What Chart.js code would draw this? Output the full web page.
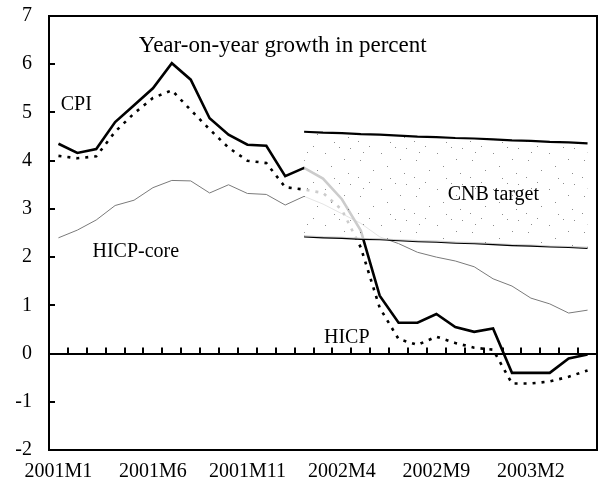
<!DOCTYPE html>
<html>
<head>
<meta charset="utf-8">
<script src="https://cdn.jsdelivr.net/npm/chart.js@4/dist/chart.umd.min.js"></script>
<style>
    html, body { margin: 0; padding: 0; background: #fff; }
    #wrap { width: 598px; height: 492px; }
</style>
</head>
<body>
<div id="wrap"><canvas id="chart" width="598" height="492"></canvas></div>
<script>
// Months 2001M1 .. 2003M5
const months = [
    '2001M1', '2001M2', '2001M3', '2001M4', '2001M5', '2001M6', '2001M7', '2001M8', '2001M9', '2001M10', '2001M11', '2001M12',
    '2002M1', '2002M2', '2002M3', '2002M4', '2002M5', '2002M6', '2002M7', '2002M8', '2002M9', '2002M10', '2002M11', '2002M12',
    '2003M1', '2003M2', '2003M3', '2003M4', '2003M5'
];
const xTickLabels = ['2001M1', '2001M6', '2001M11', '2002M4', '2002M9', '2003M2'];
const yMin = -2;
const yMax = 7;

const cpi = [4.35, 4.16, 4.24, 4.80, 5.15, 5.50, 6.02, 5.68, 4.88, 4.54, 4.33, 4.31,
    3.68, 3.85, 3.63, 3.20, 2.55, 1.20, 0.64, 0.64, 0.82, 0.55, 0.45, 0.52,
    -0.40, -0.40, -0.40, -0.10, -0.02];
const hicp = [4.10, 4.05, 4.09, 4.60, 4.98, 5.30, 5.46, 5.05, 4.65, 4.27, 4.00, 3.95,
    3.45, 3.40, 3.33, 2.98, 2.20, 0.95, 0.30, 0.18, 0.35, 0.22, 0.12, 0.08,
    -0.62, -0.62, -0.58, -0.48, -0.35];
const hicpCore = [2.40, 2.56, 2.77, 3.07, 3.18, 3.44, 3.59, 3.58, 3.33, 3.50, 3.32, 3.30,
    3.08, 3.26, 3.10, 2.90, 2.70, 2.42, 2.28, 2.10, 2.00, 1.92, 1.80, 1.55,
    1.40, 1.15, 1.03, 0.84, 0.90];
// CNB target band, from 2002M2
const targetUpper = [null, null, null, null, null, null, null, null, null, null, null, null, null,
    4.60, 4.58, 4.57, 4.55, 4.54, 4.52, 4.50, 4.49, 4.47, 4.46, 4.44, 4.42, 4.41, 4.39, 4.38, 4.36];
const targetLower = [null, null, null, null, null, null, null, null, null, null, null, null, null,
    2.43, 2.41, 2.40, 2.38, 2.37, 2.35, 2.33, 2.32, 2.30, 2.29, 2.27, 2.25, 2.24, 2.22, 2.21, 2.19];

const serif = '"Liberation Serif", "Times New Roman", serif';

// text placed in data units (category index, value)
const notes = [
    { text: 'Year-on-year growth in percent', at: 11.87, value: 6.38, align: 'center', size: 23 },
    { text: 'CPI', at: 0.12, value: 5.16, align: 'left', size: 20 },
    { text: 'HICP-core', at: 1.8, value: 2.11, align: 'left', size: 20 },
    { text: 'HICP', at: 14.05, value: 0.33, align: 'left', size: 20 },
    { text: 'CNB target', at: 20.6, value: 3.29, align: 'left', size: 20 }
];

const canvas = document.getElementById('chart');
const ctx = canvas.getContext('2d');

// sparse stippled fill for the target band
function makeStipple() {
    const tile = document.createElement('canvas');
    tile.width = 56;
    tile.height = 36;
    const g = tile.getContext('2d');
    g.fillStyle = 'rgba(255, 255, 255, 0.8)';
    g.fillRect(0, 0, 56, 36);
    g.fillStyle = 'rgba(0, 0, 0, 0.45)';
    const dots = [[3, 3], [14, 4], [33, 2], [45, 9], [8, 15], [24, 16], [51, 22], [37, 26], [12, 29], [27, 8], [54, 34], [22, 33]];
    for (const [x, y] of dots) g.fillRect(x, y, 1, 1);
    return ctx.createPattern(tile, 'repeat');
}

// frame, inward ticks and text
const decorations = {
    id: 'decorations',
    afterDraw(chart) {
        const c = chart.ctx;
        const area = chart.chartArea;
        const x = chart.scales.x;
        const y = chart.scales.y;
        c.save();
        c.setLineDash([]);
        c.strokeStyle = '#000';
        c.lineWidth = 2;
        c.beginPath();
        c.rect(area.left, area.top, area.right - area.left, area.bottom - area.top);
        c.stroke();

        // y ticks pointing into the plot
        c.beginPath();
        for (let v = yMin + 1; v < yMax; v++) {
            const py = Math.round(y.getPixelForValue(v));
            c.moveTo(area.left, py);
            c.lineTo(area.left + 6, py);
        }
        // month ticks on the zero line
        const zero = y.getPixelForValue(0);
        const step = x.getPixelForValue(1) - x.getPixelForValue(0);
        for (let i = 0; i < months.length - 1; i++) {
            const px = Math.round(x.getPixelForValue(i) + step / 2);
            c.moveTo(px, zero);
            c.lineTo(px, zero - 6);
        }
        c.stroke();

        c.fillStyle = '#000';
        c.textBaseline = 'middle';
        for (const n of notes) {
            c.font = n.size + 'px ' + serif;
            c.textAlign = n.align;
            const px = x.getPixelForValue(0) + n.at * step;
            c.fillText(n.text, px, y.getPixelForValue(n.value));
        }
        c.restore();
    }
};

const stipple = makeStipple();

new Chart(ctx, {
    type: 'line',
    data: {
        labels: months,
        datasets: [
            {
                label: 'CPI',
                data: cpi,
                borderColor: '#000',
                borderWidth: 2.6,
                pointRadius: 0,
                tension: 0,
                order: 2
            },
            {
                label: 'HICP',
                data: hicp,
                borderColor: '#000',
                borderWidth: 2.6,
                borderDash: [3, 6],
                pointRadius: 0,
                tension: 0,
                order: 2
            },
            {
                label: 'HICP-core',
                data: hicpCore,
                borderColor: '#7a7a7a',
                borderWidth: 1,
                pointRadius: 0,
                tension: 0,
                order: 2
            },
            {
                label: 'CNB target upper',
                data: targetUpper,
                borderColor: '#000',
                borderWidth: 2.2,
                pointRadius: 0,
                tension: 0,
                fill: '+1',
                backgroundColor: stipple,
                order: 0
            },
            {
                label: 'CNB target lower',
                data: targetLower,
                borderColor: '#000',
                borderWidth: 2.2,
                pointRadius: 0,
                tension: 0,
                fill: false,
                order: 0
            }
        ]
    },
    options: {
        responsive: false,
        animation: false,
        layout: { padding: { left: 0, top: 16, right: 1, bottom: 0 } },
        plugins: {
            legend: { display: false },
            tooltip: { enabled: false }
        },
        scales: {
            x: {
                type: 'category',
                offset: true,
                afterFit(scale) {
                    scale.height = 42;
                    scale.paddingLeft = 0;
                    scale.paddingRight = 0;
                },
                grid: { display: false, drawTicks: false },
                border: { display: true, color: '#000', width: 2 },
                ticks: {
                    autoSkip: false,
                    maxRotation: 0,
                    padding: 10,
                    color: '#000',
                    font: { family: serif, size: 20 },
                    callback(value) {
                        const label = this.getLabelForValue(value);
                        return xTickLabels.includes(label) ? label : '';
                    }
                }
            },
            y: {
                min: yMin,
                max: yMax,
                afterFit(scale) {
                    scale.width = 49;
                    scale.paddingTop = 0;
                    scale.paddingBottom = 0;
                },
                grid: {
                    drawTicks: false,
                    color: (c) => (c.tick && c.tick.value === 0 ? '#000' : 'rgba(0,0,0,0)'),
                    lineWidth: (c) => (c.tick && c.tick.value === 0 ? 2 : 0)
                },
                border: { display: true, color: '#000', width: 2 },
                ticks: {
                    stepSize: 1,
                    padding: 17,
                    color: '#000',
                    font: { family: serif, size: 20 }
                }
            }
        }
    },
    plugins: [decorations]
});
</script>
</body>
</html>
